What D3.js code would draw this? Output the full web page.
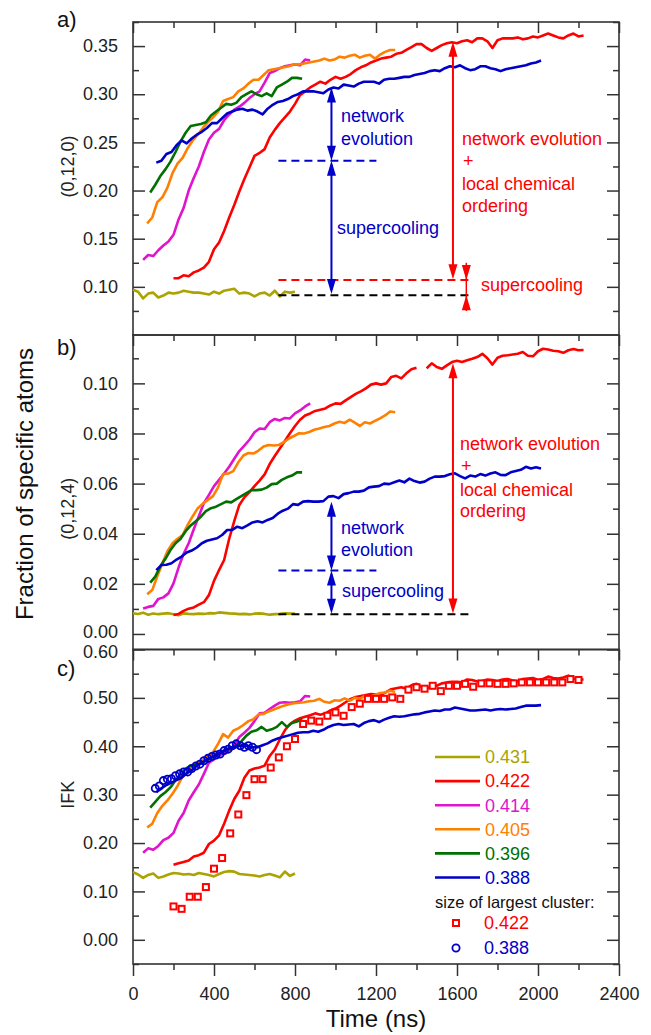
<!DOCTYPE html>
<html>
<head>
<meta charset="utf-8">
<script src="https://cdn.jsdelivr.net/npm/d3@7"></script>
<style>
  body { margin: 0; background: #fff; }
  text { font-family: "Liberation Sans", Arial, sans-serif; }
</style>
</head>
<body>
<div id="chart"></div>
<script>
// sample spacing of the MD curves (ns) and where each curve starts
const timeStep = 25;
const seriesLabels = ["0.431", "0.422", "0.414", "0.405", "0.396", "0.388"];
const seriesStart = [0, 200, 50, 70, 85, 115];

const xTicks = [0, 400, 800, 1200, 1600, 2000, 2400];
const yTicksA = [0.10, 0.15, 0.20, 0.25, 0.30, 0.35];
const yTicksB = [0.00, 0.02, 0.04, 0.06, 0.08, 0.10];
const yTicksC = [0.00, 0.10, 0.20, 0.30, 0.40, 0.50, 0.60];

// panel a) (0,12,0)
const a_431 = [0.097,0.095,0.088,0.093,0.094,0.089,0.091,0.094,0.093,0.094,0.096,0.095,0.094,0.094,0.093,0.092,0.095,0.093,0.096,0.097,0.098,0.093,0.094,0.093,0.090,0.093,0.094,0.091,0.096,0.090,0.095,0.094,0.095];
const a_422 = [0.109,0.109,0.112,0.111,0.115,0.117,0.120,0.126,0.139,0.146,
  0.158,0.172,0.185,0.199,0.212,0.224,0.236,0.239,0.243,0.255,
  0.263,0.270,0.276,0.282,0.290,0.299,0.303,0.307,0.310,0.313,
  0.311,0.315,0.318,0.316,0.318,0.321,0.325,0.328,0.330,0.333,
  0.335,0.337,0.338,0.339,0.342,0.343,0.346,0.349,0.352,0.352,
  0.348,0.345,0.348,0.351,0.353,0.354,0.353,0.355,0.356,0.354,
  0.358,0.358,0.355,0.348,0.356,0.358,0.358,0.358,0.359,0.357,
  0.358,0.360,0.359,0.361,0.363,0.361,0.359,0.358,0.361,0.363,
  0.360,0.361];
const a_414 = [0.128,0.133,0.132,0.138,0.143,0.147,0.154,0.170,0.182,0.200,0.213,0.225,0.240,0.253,0.260,0.264,0.273,0.279,0.284,0.287,0.291,0.296,0.300,0.303,0.312,0.322,0.324,0.327,0.329,0.330,0.331,0.330,0.336,0.335];
const a_405 = [0.166,0.172,0.188,0.193,0.203,0.218,0.228,0.234,0.244,0.252,
  0.258,0.265,0.271,0.276,0.282,0.293,0.295,0.297,0.303,0.306,
  0.311,0.315,0.315,0.320,0.325,0.326,0.327,0.328,0.329,0.331,
  0.331,0.332,0.333,0.334,0.335,0.337,0.335,0.336,0.339,0.338,
  0.340,0.341,0.338,0.340,0.341,0.337,0.341,0.344,0.346,0.346];
const a_396 = [0.198,0.206,0.215,0.222,0.230,0.240,0.251,0.260,0.267,0.268,0.269,0.271,0.278,0.282,0.286,0.290,0.289,0.291,0.297,0.300,0.303,0.300,0.298,0.301,0.298,0.307,0.310,0.313,0.317,0.317,0.316];
const a_388 = [0.229,0.231,0.238,0.240,0.247,0.252,0.249,0.254,0.258,0.261,
  0.265,0.270,0.270,0.275,0.280,0.282,0.284,0.285,0.283,0.284,
  0.282,0.279,0.285,0.289,0.292,0.293,0.295,0.298,0.300,0.303,
  0.303,0.303,0.302,0.301,0.305,0.307,0.306,0.310,0.309,0.308,
  0.311,0.313,0.313,0.313,0.311,0.315,0.316,0.316,0.317,0.318,
  0.318,0.320,0.321,0.322,0.324,0.325,0.324,0.327,0.329,0.328,
  0.330,0.327,0.325,0.326,0.329,0.329,0.327,0.326,0.324,0.326,
  0.327,0.328,0.329,0.330,0.332,0.333,0.335];

// panel b) (0,12,4)
const b_431 = [0.0083,0.0080,0.0085,0.0077,0.0082,0.0079,0.0081,0.0083,0.0079,0.0075,0.0082,0.0080,0.0079,0.0081,0.0080,0.0083,0.0082,0.0086,0.0084,0.0082,0.0081,0.0079,0.0080,0.0078,0.0081,0.0082,0.0080,0.0077,0.0079,0.0080,0.0082,0.0081,0.0081];
const b_422 = [0.0076,0.0080,0.0092,0.0101,0.0106,0.0117,0.0127,0.0155,0.0212,0.0255,
  0.0295,0.0380,0.0450,0.0515,0.0545,0.0566,0.0590,0.0612,0.0637,0.0678,
  0.0710,0.0740,0.0770,0.0801,0.0830,0.0855,0.0872,0.0880,0.0890,0.0895,
  0.0900,0.0912,0.0920,0.0918,0.0932,0.0945,0.0958,0.0968,0.0980,0.0995,
  0.1000,0.0995,0.1000,0.1025,0.1030,0.1020,0.1040,0.1056,0.1062,null,
  0.1060,0.1080,0.1065,0.1058,0.1072,0.1085,0.1090,0.1085,0.1092,0.1098,
  0.1105,0.1118,0.1100,0.1075,0.1102,0.1110,0.1112,0.1115,0.1118,0.1125,
  0.1110,0.1108,0.1128,0.1138,0.1135,0.1130,0.1128,0.1122,0.1132,0.1137,
  0.1132,0.1133];
const b_414 = [0.0102,0.0108,0.0112,0.0140,0.0146,0.0162,0.0202,0.0265,0.0320,0.0362,0.0418,0.0470,0.0522,0.0555,0.0590,0.0615,0.0640,0.0667,0.0699,0.0730,0.0752,0.0775,0.0805,0.0820,0.0818,0.0845,0.0858,0.0852,0.0862,0.0860,0.0880,0.0892,0.0908,0.0920];
const b_405 = [0.0158,0.0175,0.0230,0.0282,0.0330,0.0362,0.0380,0.0395,0.0435,0.0470,
  0.0502,0.0520,0.0535,0.0550,0.0585,0.0638,0.0640,0.0650,0.0685,0.0712,
  0.0722,0.0720,0.0732,0.0748,0.0754,0.0752,0.0754,0.0765,0.0780,0.0790,
  0.0801,0.0800,0.0806,0.0815,0.0820,0.0826,0.0830,0.0840,0.0847,0.0842,
  0.0855,0.0843,0.0830,0.0845,0.0840,0.0850,0.0860,0.0872,0.0888,0.0885];
const b_396 = [0.0205,0.0229,0.0270,0.0300,0.0335,0.0362,0.0380,0.0410,0.0433,0.0450,0.0468,0.0490,0.0502,0.0508,0.0518,0.0528,0.0525,0.0538,0.0550,0.0562,0.0574,0.0574,0.0576,0.0584,0.0598,0.0600,0.0615,0.0625,0.0632,0.0645,0.0645];
const b_388 = [0.0255,0.0275,0.0276,0.0282,0.0297,0.0309,0.0325,0.0333,0.0345,0.0362,
  0.0372,0.0377,0.0382,0.0395,0.0415,0.0415,0.0428,0.0422,0.0433,0.0445,
  0.0450,0.0445,0.0455,0.0463,0.0480,0.0492,0.0500,0.0518,0.0515,0.0528,
  0.0530,0.0528,0.0528,0.0530,0.0548,0.0550,0.0542,0.0558,0.0562,0.0568,
  0.0568,0.0572,0.0585,0.0588,0.0590,0.0600,0.0598,0.0605,0.0612,0.0605,
  0.0620,0.0610,0.0604,0.0608,0.0620,0.0628,0.0628,0.0630,0.0637,0.0641,
  0.0630,0.0621,0.0632,0.0628,0.0638,0.0632,0.0640,0.0645,0.0635,0.0634,
  0.0645,0.0650,0.0655,0.0667,0.0660,0.0665,0.0660];

// panel c) IFK
const c_431 = [0.140,0.135,0.128,0.134,0.137,0.128,0.131,0.135,0.138,0.137,0.135,0.136,0.134,0.138,0.136,0.134,0.131,0.136,0.140,0.142,0.141,0.136,0.135,0.134,0.133,0.131,0.134,0.136,0.133,0.129,0.141,0.132,0.137];
const c_422 = [0.155,0.158,0.161,0.164,0.172,0.175,0.180,0.198,0.205,0.216,
  0.240,0.267,0.291,0.308,0.335,0.350,0.354,0.356,0.360,0.380,
  0.393,0.414,0.433,0.446,0.453,0.458,0.461,0.464,0.468,0.465,
  0.468,0.474,0.478,0.484,0.491,0.498,0.502,0.504,0.506,0.508,
  0.507,0.506,0.512,0.518,0.520,0.522,0.519,0.526,0.529,0.523,
  0.520,0.523,0.525,0.530,0.532,0.533,0.533,0.532,0.538,0.537,
  0.534,0.535,0.538,0.537,0.535,0.538,0.539,0.536,0.534,0.539,
  0.540,0.541,0.537,0.539,0.544,0.541,0.540,0.542,0.546,0.540,
  0.538,0.538];
const c_414 = [0.180,0.189,0.186,0.194,0.206,0.211,0.221,0.246,0.262,0.288,0.305,0.321,0.343,0.366,0.373,0.381,0.386,0.391,0.403,0.419,0.428,0.438,0.452,0.468,0.469,0.477,0.484,0.490,0.491,0.490,0.491,0.493,0.504,0.503];
const c_405 = [0.232,0.240,0.262,0.277,0.288,0.302,0.318,0.338,0.350,0.359,
  0.364,0.372,0.379,0.388,0.405,0.425,0.418,0.432,0.437,0.444,
  0.452,0.456,0.466,0.467,0.472,0.476,0.480,0.484,0.487,0.489,
  0.490,0.491,0.493,0.494,0.498,0.492,0.490,0.495,0.494,0.499,
  0.494,0.500,0.498,0.504,0.502,0.506,0.510,0.511,0.515,0.512];
const c_396 = [0.273,0.285,0.297,0.305,0.315,0.330,0.342,0.354,0.360,0.361,0.364,0.370,0.375,0.384,0.388,0.394,0.394,0.399,0.410,0.422,0.430,0.433,0.440,0.432,0.435,0.440,0.450,0.440,0.448,0.451,0.456];
const c_388 = [0.305,0.313,0.320,0.325,0.330,0.335,0.344,0.350,0.360,0.366,
  0.372,0.378,0.382,0.388,0.394,0.398,0.401,0.400,0.401,0.398,
  0.398,0.402,0.406,0.412,0.416,0.419,0.422,0.425,0.428,0.429,
  0.429,0.432,0.430,0.434,0.440,0.444,0.446,0.444,0.445,0.446,
  0.441,0.448,0.452,0.454,0.450,0.455,0.459,0.462,0.461,0.462,
  0.464,0.466,0.467,0.470,0.472,0.474,0.473,0.476,0.476,0.480,
  0.478,0.476,0.474,0.474,0.475,0.476,0.474,0.476,0.477,0.476,
  0.477,0.478,0.481,0.484,0.484,0.484,0.485];

// size of largest cluster (symbols in panel c)
const cluster422Start = 200, cluster422Step = 40;
const cluster422 = [0.069,0.064,0.089,0.089,0.109,0.147,0.169,0.220,0.259,0.299,
  0.332,0.332,0.356,0.377,0.400,0.415,0.446,0.453,0.451,0.463,
  0.470,0.463,0.481,0.488,0.498,0.498,0.498,0.501,0.498,0.517,
  0.522,0.519,0.525,0.514,0.525,0.525,0.529,0.523,0.530,0.530,
  0.529,0.529,0.530,0.532,0.532,0.532,0.532,0.532,0.532,0.539,
  0.537];
const cluster388Start = 110, cluster388Step = 20;
const cluster388 = [0.313,0.318,0.329,0.332,0.333,0.339,0.343,0.347,0.347,0.354,0.359,0.363,0.370,0.375,0.379,0.382,0.384,0.391,0.394,0.401,0.405,0.401,0.398,0.401,0.398,0.393];

const colors = ["#aaa300", "#ff0000", "#e014cc", "#ff8000", "#007000", "#0000c8"];
const axisColor = "#333";

const svg = d3.select("#chart").append("svg")
    .attr("width", 651)
    .attr("height", 1035);

const x = d3.scaleLinear().domain([0, 2400]).range([133, 619]);
const xMinor = d3.range(200, 2400, 400);

function toPoints(vals, start, step) {
    return vals.map((v, i) => ({ t: start + i * step, v: v }));
}

const panels = [
    { tag: "a)", top: 22, bottom: 335, domain: [0.05, 0.375], ticks: yTicksA,
      minor: d3.range(0.075, 0.376, 0.05), ylab: "(0,12,0)", tagY: 27,
      series: [a_431, a_422, a_414, a_405, a_396, a_388] },
    { tag: "b)", top: 335, bottom: 649.5, domain: [-0.0062, 0.1193], ticks: yTicksB,
      minor: d3.range(0.01, 0.12, 0.02), ylab: "(0,12,4)", tagY: 355,
      series: [b_431, b_422, b_414, b_405, b_396, b_388] },
    { tag: "c)", top: 649.5, bottom: 964, domain: [-0.05, 0.60], ticks: yTicksC,
      minor: d3.range(-0.05, 0.6, 0.1), ylab: "IFK", tagY: 676,
      series: [c_431, c_422, c_414, c_405, c_396, c_388] }
];

function styleAxis(g) {
    g.select(".domain").remove();
    g.selectAll(".tick line").attr("stroke", axisColor).attr("stroke-width", 1.5);
    g.selectAll(".tick text").attr("fill", "#222").style("font-size", "18px")
        .style("font-family", "'Liberation Sans', Arial, sans-serif");
}

panels.forEach(function (p, k) {
    const y = d3.scaleLinear().domain(p.domain).range([p.bottom, p.top]);
    p.y = y;
    const g = svg.append("g");

    // left axis, ticks inside
    const leftAx = g.append("g").attr("transform", "translate(133,0)")
        .call(d3.axisLeft(y).tickValues(p.ticks).tickSize(-12).tickPadding(15)
            .tickFormat(d3.format(".2f")))
        .call(styleAxis);
    // the 0.00 of b) and 0.60 of c) sit on the shared edge: ease them apart a little
    if (k === 1) leftAx.selectAll(".tick text").filter(d => d === 0).attr("dy", "0.22em");
    if (k === 2) leftAx.selectAll(".tick text").filter(d => d === 0.6).attr("dy", "0.44em");
    g.append("g").attr("transform", "translate(133,0)")
        .call(d3.axisLeft(y).tickValues(p.minor).tickSize(-6).tickFormat(""))
        .call(styleAxis);
    // right axis
    g.append("g").attr("transform", "translate(619,0)")
        .call(d3.axisRight(y).tickValues(p.ticks).tickSize(-12).tickFormat(""))
        .call(styleAxis);
    g.append("g").attr("transform", "translate(619,0)")
        .call(d3.axisRight(y).tickValues(p.minor).tickSize(-6).tickFormat(""))
        .call(styleAxis);
    // top axis
    g.append("g").attr("transform", `translate(0,${p.top})`)
        .call(d3.axisTop(x).tickValues(xTicks).tickSize(-11).tickFormat(""))
        .call(styleAxis);
    g.append("g").attr("transform", `translate(0,${p.top})`)
        .call(d3.axisTop(x).tickValues(xMinor).tickSize(-6).tickFormat(""))
        .call(styleAxis);

    g.append("rect")
        .attr("x", 133).attr("y", p.top)
        .attr("width", 619 - 133).attr("height", p.bottom - p.top)
        .attr("fill", "none").attr("stroke", axisColor).attr("stroke-width", 1.6);

    const line = d3.line()
        .defined(d => d.v !== null)
        .x(d => x(d.t))
        .y(d => y(d.v));

    p.series.forEach(function (vals, i) {
        g.append("path")
            .datum(toPoints(vals, seriesStart[i], timeStep))
            .attr("fill", "none")
            .attr("stroke", colors[i])
            .attr("stroke-width", 2.6)
            .attr("stroke-linejoin", "round")
            .attr("d", line);
    });

    g.append("text")
        .attr("x", 57).attr("y", p.tagY)
        .style("font-size", "22px").attr("fill", "#111")
        .text(p.tag);

    g.append("text")
        .attr("transform", `translate(68,${(y(p.ticks[0]) + y(p.ticks[p.ticks.length - 1])) / 2}) rotate(-90)`)
        .attr("text-anchor", "middle")
        .attr("dy", "0.35em")
        .style("font-size", "18px").attr("fill", "#222")
        .text(p.ylab);
});

// bottom axis of panel c
svg.append("g").attr("transform", "translate(0,964)")
    .call(d3.axisBottom(x).tickValues(xTicks).tickSize(12).tickPadding(11).tickFormat(d3.format("d")))
    .call(styleAxis);
svg.append("g").attr("transform", "translate(0,964)")
    .call(d3.axisBottom(x).tickValues(xMinor).tickSize(6).tickFormat(""))
    .call(styleAxis);

svg.append("text")
    .attr("x", 376).attr("y", 1027)
    .attr("text-anchor", "middle")
    .style("font-size", "24px").attr("fill", "#111")
    .text("Time (ns)");

svg.append("text")
    .attr("transform", "translate(25,484) rotate(-90)")
    .attr("text-anchor", "middle")
    .attr("dy", "0.35em")
    .style("font-size", "24px").attr("fill", "#111")
    .text("Fraction of specific atoms");

// cluster symbols in panel c
const yc = panels[2].y;
const gc = svg.append("g");
gc.selectAll(".sq")
    .data(toPoints(cluster422, cluster422Start, cluster422Step))
    .enter().append("rect")
    .attr("class", "sq")
    .attr("x", d => x(d.t) - 3)
    .attr("y", d => yc(d.v) - 3)
    .attr("width", 6).attr("height", 6)
    .attr("fill", "#fff")
    .attr("stroke", colors[1]).attr("stroke-width", 2);
gc.selectAll(".ci")
    .data(toPoints(cluster388, cluster388Start, cluster388Step))
    .enter().append("circle")
    .attr("class", "ci")
    .attr("cx", d => x(d.t))
    .attr("cy", d => yc(d.v))
    .attr("r", 3.6)
    .attr("fill", "none")
    .attr("stroke", colors[5]).attr("stroke-width", 1.8);

// annotations
function tri(g, cx, tipY, dir, color) {
    // dir = 1 : pointing down, -1 : pointing up
    const b = tipY - dir * 15;
    g.append("path")
        .attr("d", `M${cx},${tipY}L${cx - 4.5},${b}L${cx + 4.5},${b}Z`)
        .attr("fill", color);
}
function dblArrow(g, cx, yTop, yBot, color) {
    g.append("line")
        .attr("x1", cx).attr("x2", cx)
        .attr("y1", yTop + 4).attr("y2", yBot - 4)
        .attr("stroke", color).attr("stroke-width", 2);
    tri(g, cx, yTop, -1, color);
    tri(g, cx, yBot, 1, color);
}
function dashed(g, t0, t1, yy, color) {
    g.append("line")
        .attr("x1", x(t0)).attr("x2", x(t1))
        .attr("y1", yy).attr("y2", yy)
        .attr("stroke", color).attr("stroke-width", 2)
        .attr("stroke-dasharray", "8,5");
}
function label(g, px, py, str, color) {
    g.append("text")
        .attr("x", px).attr("y", py)
        .style("font-size", "18px").attr("fill", color)
        .text(str);
}

const blue = colors[5], red = colors[1];

// panel a
const ya = panels[0].y;
const ga = svg.append("g");
dashed(ga, 718, 1202, ya(0.231), blue);
dashed(ga, 718, 1671, ya(0.107), red);
dashed(ga, 718, 1671, ya(0.0914), "#000");
dblArrow(ga, x(980), ya(0.307), ya(0.231), blue);
dblArrow(ga, x(980), ya(0.231), ya(0.0925), blue);
dblArrow(ga, x(1580), ya(0.3545), ya(0.108), red);
ga.append("line")
    .attr("x1", x(1646)).attr("x2", x(1646))
    .attr("y1", ya(0.125)).attr("y2", ya(0.075))
    .attr("stroke", red).attr("stroke-width", 1.5);
tri(ga, x(1646), ya(0.107), 1, red);
tri(ga, x(1646), ya(0.0914), -1, red);
label(ga, 341, 122, "network", blue);
label(ga, 341, 145, "evolution", blue);
label(ga, 337, 234, "supercooling", blue);
label(ga, 462, 145, "network evolution", red);
label(ga, 463, 167, "+", red);
label(ga, 462, 190, "local chemical", red);
label(ga, 462, 212, "ordering", red);
label(ga, 481, 291, "supercooling", red);

// panel b
const yb = panels[1].y;
const gb = svg.append("g");
dashed(gb, 718, 1202, yb(0.0253), blue);
dashed(gb, 718, 1679, yb(0.0079), "#000");
dblArrow(gb, x(980), yb(0.0528), yb(0.0253), blue);
dblArrow(gb, x(980), yb(0.0253), yb(0.0081), blue);
dblArrow(gb, x(1580), yb(0.108), yb(0.0082), red);
label(gb, 341, 534, "network", blue);
label(gb, 341, 556, "evolution", blue);
label(gb, 342, 597, "supercooling", blue);
label(gb, 460, 450, "network evolution", red);
label(gb, 461, 472, "+", red);
label(gb, 460, 496, "local chemical", red);
label(gb, 460, 517, "ordering", red);

// legend
const lg = svg.append("g");
seriesLabels.forEach(function (s, i) {
    const ly = 757 + i * 24.1;
    lg.append("line")
        .attr("x1", 435).attr("x2", 480)
        .attr("y1", ly).attr("y2", ly)
        .attr("stroke", colors[i]).attr("stroke-width", 2.6);
    lg.append("text")
        .attr("x", 485).attr("y", ly).attr("dy", "0.35em")
        .style("font-size", "18px").attr("fill", colors[i])
        .text(s);
});
lg.append("text")
    .attr("x", 435).attr("y", 902).attr("dy", "0.35em")
    .style("font-size", "16.5px").attr("fill", "#111")
    .text("size of largest cluster:");
lg.append("rect")
    .attr("x", 453).attr("y", 920).attr("width", 6).attr("height", 6)
    .attr("fill", "#fff").attr("stroke", red).attr("stroke-width", 2);
lg.append("text")
    .attr("x", 484).attr("y", 923).attr("dy", "0.35em")
    .style("font-size", "18px").attr("fill", red)
    .text("0.422");
lg.append("circle")
    .attr("cx", 456).attr("cy", 948).attr("r", 3.6)
    .attr("fill", "none").attr("stroke", blue).attr("stroke-width", 1.8);
lg.append("text")
    .attr("x", 484).attr("y", 948).attr("dy", "0.35em")
    .style("font-size", "18px").attr("fill", blue)
    .text("0.388");
</script>
</body>
</html>
